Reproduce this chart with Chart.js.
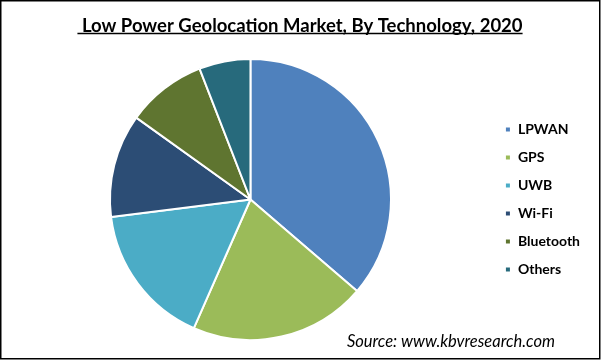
<!DOCTYPE html>
<html>
<head>
<meta charset="utf-8">
<script src="https://cdn.jsdelivr.net/npm/chart.js@4"></script>
<style>
html,body{margin:0;padding:0;background:#fff;}
#wrap{width:601px;height:360px;position:relative;}
</style>
</head>
<body>
<div id="wrap"><canvas id="c" width="601" height="360"></canvas></div>
<script>
const categories = ['LPWAN', 'GPS', 'UWB', 'Wi-Fi', 'Bluetooth', 'Others'];
const shares = [36.3, 20.3, 16.4, 11.9, 9.2, 5.9];
const colors = ['#4F81BD', '#9BBB59', '#4BACC6', '#2C4D75', '#5F7530', '#276A7C'];
const titleText = ' Low Power Geolocation Market, By Technology, 2020';
const sourceText = 'Source: www.kbvresearch.com';

const decor = {
  id: 'decor',
  afterDraw(chart) {
    const ctx = chart.ctx;
    ctx.save();
    const tb = chart.titleBlock;
    ctx.font = 'bold 18.5px Lato';
    const w = ctx.measureText(titleText).width;
    const cx = (tb.left + tb.right) / 2;
    ctx.strokeStyle = '#000';
    ctx.lineWidth = 1.3;
    ctx.beginPath();
    ctx.moveTo(cx - w / 2, 33.5);
    ctx.lineTo(cx + w / 2, 33.5);
    ctx.stroke();
    ctx.font = 'italic 16.5px Lato';
    ctx.fillStyle = '#000';
    ctx.textAlign = 'right';
    ctx.textBaseline = 'middle';
    ctx.fillText(sourceText, 555, 342);
    ctx.lineWidth = 1.5;
    ctx.strokeRect(0.75, 0.75, 599, 358);
    ctx.restore();
  }
};

new Chart(document.getElementById('c'), {
  type: 'pie',
  data: {
    labels: categories,
    datasets: [{
      data: shares,
      backgroundColor: colors,
      borderColor: '#ffffff',
      borderWidth: 2
    }]
  },
  options: {
    responsive: false,
    animation: false,
    layout: { padding: { left: 10, right: 11, top: 0, bottom: 19 } },
    plugins: {
      tooltip: { enabled: false },
      title: {
        display: true,
        text: titleText,
        color: '#000',
        font: { family: 'Lato', size: 18.5, weight: 'bold' },
        padding: { top: 15.2, bottom: 20.6 }
      },
      legend: {
        position: 'right',
        fullSize: false,
        labels: {
          color: '#000',
          font: { family: 'Lato', size: 14, weight: 'bold' },
          boxWidth: 6,
          boxHeight: 6,
          padding: 14
        }
      }
    }
  },
  plugins: [decor]
});
</script>
</body>
</html>
